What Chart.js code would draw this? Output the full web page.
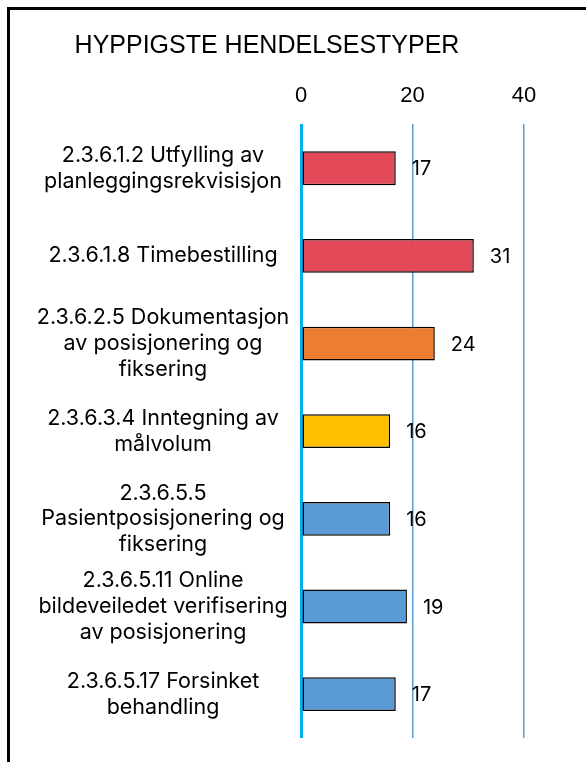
<!DOCTYPE html>
<html><head><meta charset="utf-8">
<script src="https://cdn.jsdelivr.net/npm/chart.js@4/dist/chart.umd.min.js"></script>
<style>
html,body{margin:0;padding:0;background:#fff;}
#wrap{position:relative;width:586px;height:762px;overflow:hidden;}
#frame{position:absolute;left:7px;top:7px;width:600px;height:800px;border-left:3px solid #000;border-top:3px solid #000;box-sizing:border-box;}
canvas{position:absolute;left:0;top:0;}
</style></head>
<body><div id="wrap"><div id="frame"></div><canvas id="c" width="586" height="762"></canvas></div>
<script>
const title = "HYPPIGSTE HENDELSESTYPER";
const categories = [
  ["2.3.6.1.2 Utfylling av","planleggingsrekvisisjon"],
  "2.3.6.1.8 Timebestilling",
  ["2.3.6.2.5 Dokumentasjon","av posisjonering og","fiksering"],
  ["2.3.6.3.4 Inntegning av","målvolum"],
  ["2.3.6.5.5","Pasientposisjonering og","fiksering"],
  ["2.3.6.5.11 Online","bildeveiledet verifisering","av posisjonering"],
  ["2.3.6.5.17 Forsinket","behandling"]
];
const values = [17, 31, 24, 16, 16, 19, 17];
const barColors = ["#e24a5a","#e24a5a","#ed7d31","#ffc000","#5b9bd5","#5b9bd5","#5b9bd5"];
const xTicks = [0, 20, 40];

const labelFont = {family:"Inter", size:21.5, lineHeight:1.2};
const mc = document.createElement('canvas').getContext('2d');
mc.font = labelFont.size + "px " + labelFont.family;
let widest = 0;
categories.forEach(c => [].concat(c).forEach(l => { widest = Math.max(widest, mc.measureText(l).width); }));
const labelCenter = 163, axisLeft = 301;
const yPad = Math.max(0, axisLeft - labelCenter - widest/2);

const dataLabels = {
  id:'dataLabels',
  afterDatasetsDraw(chart){
    const ctx = chart.ctx;
    const meta = chart.getDatasetMeta(0);
    ctx.save();
    ctx.font = "20px Inter";
    ctx.fillStyle = "#000";
    ctx.textAlign = "left";
    ctx.textBaseline = "middle";
    meta.data.forEach((bar,i) => {
      ctx.fillText(String(values[i]), bar.x + 16, bar.y + 1);
    });
    ctx.restore();
  }
};

new Chart(document.getElementById('c'), {
  type:'bar',
  data:{
    labels: categories,
    datasets:[{
      data: values,
      backgroundColor: barColors,
      borderColor: "#000",
      borderWidth: 1.5,
      borderSkipped: false,
      barPercentage: 0.386,
      categoryPercentage: 1
    }]
  },
  options:{
    indexAxis:'y',
    responsive:false,
    animation:false,
    layout:{padding:{left:10, right:62, top:0, bottom:24}},
    plugins:{
      legend:{display:false},
      tooltip:{enabled:false},
      title:{display:true, text:title, color:"#000",
        font:{family:"Liberation Sans", size:25, weight:'normal', lineHeight:1.2},
        padding:{top:31, bottom:7}}
    },
    scales:{
      x:{
        position:'top',
        min:0, max:40,
        afterBuildTicks(s){ s.ticks = xTicks.map(v => ({value:v})); },
        border:{display:false},
        grid:{drawTicks:false,
          color: c => c.tick && c.tick.value === 0 ? "#00b0f0" : "#5b9bd5",
          lineWidth: c => c.tick && c.tick.value === 0 ? 3 : 1.5},
        ticks:{color:"#000", padding:15, font:{family:"Liberation Sans", size:22, lineHeight:1.2}}
      },
      y:{
        border:{display:false},
        grid:{display:false, drawTicks:false},
        afterFit(s){ s.width = axisLeft - 10; s.paddingTop = 0; s.paddingBottom = 0; },
        ticks:{color:"#000", crossAlign:'center', padding:yPad, font:labelFont}
      }
    }
  },
  plugins:[dataLabels]
});
</script></body></html>
